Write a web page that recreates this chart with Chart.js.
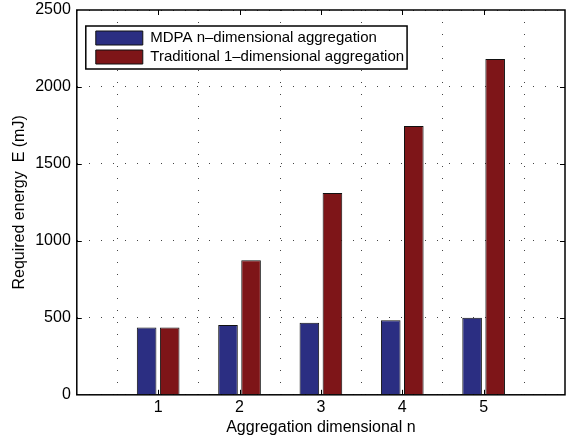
<!DOCTYPE html>
<html>
<head>
<meta charset="utf-8">
<script src="https://cdn.jsdelivr.net/npm/chart.js@4/dist/chart.umd.min.js"></script>
<style>
  html, body { margin: 0; padding: 0; background: #ffffff; }
  #wrap { width: 568px; height: 437px; position: relative; }
</style>
</head>
<body>
<div id="wrap"><canvas id="c" width="568" height="437"></canvas></div>
<script>
// ---- data ----
const categories = ['0', '1', '2', '3', '4', '5', '6'];   // axis runs 0..6, bars at 1..5
const mdpaValues = [null, 437, 453, 468, 484, 500, null];
const traditionalValues = [null, 437, 874, 1311, 1746, 2182, null];
const seriesNames = ['MDPA n\u2013dimensional aggregation', 'Traditional 1\u2013dimensional aggregation'];
const yTicks = [0, 500, 1000, 1500, 2000, 2500];
const xTitle = 'Aggregation dimensional n';
const yTitle = 'Required energy  E (mJ)';

const FONT = "'Liberation Sans', Arial, Helvetica, sans-serif";

const framePlugin = {
  id: 'matlabFrame',
  afterLayout(chart) {
    const lg = chart.legend;
    if (!lg) return;
    const a = chart.chartArea;
    const w = lg.width, h = lg.height;
    lg.left = a.left + 15; lg.right = lg.left + w;
    lg.top = a.top + 16.5; lg.bottom = lg.top + h;
  },
  afterDraw(chart) {
    const ctx = chart.ctx;
    const a = chart.chartArea;
    const xs = chart.scales.x, ys = chart.scales.y;
    ctx.save();
    // inward tick marks
    ctx.strokeStyle = '#000';
    ctx.lineWidth = 1;
    ctx.beginPath();
    for (let i = 1; i < categories.length - 1; i++) {
      const px = Math.round(xs.getPixelForValue(i)) + 0.5;
      ctx.moveTo(px, a.bottom); ctx.lineTo(px, a.bottom - 5);
      ctx.moveTo(px, a.top); ctx.lineTo(px, a.top + 5);
    }
    for (let i = 1; i < yTicks.length - 1; i++) {
      const py = Math.round(ys.getPixelForValue(yTicks[i])) + 0.5;
      ctx.moveTo(a.left, py); ctx.lineTo(a.left + 5, py);
      ctx.moveTo(a.right, py); ctx.lineTo(a.right - 5, py);
    }
    ctx.stroke();
    // box
    ctx.lineWidth = 1.5;
    ctx.strokeStyle = '#000';
    ctx.strokeRect(a.left, a.top, a.right - a.left, a.bottom - a.top);
    // legend frame
    const lg = chart.legend;
    if (lg) {
      ctx.font = '15px ' + FONT;
      let tw = 0;
      seriesNames.forEach(s => { tw = Math.max(tw, ctx.measureText(s).width); });
      const fl = lg.left - 6, ft = lg.top - 0.5;
      const fw = 6 + 4 + 47 + 7.5 + tw + 3;
      const fh = 43;
      ctx.fillStyle = '#fff';
      ctx.fillRect(fl, ft, fw, fh);
      ctx.lineWidth = 1.5;
      ctx.strokeRect(fl, ft, fw, fh);
      ctx.restore();
      lg.draw();
      return;
    }
    ctx.restore();
  }
};

new Chart(document.getElementById('c'), {
  type: 'bar',
  data: {
    labels: categories,
    datasets: [
      {
        label: seriesNames[0],
        data: mdpaValues,
        backgroundColor: '#2b2e82',
        borderColor: '#111111',
        borderWidth: 1
      },
      {
        label: seriesNames[1],
        data: traditionalValues,
        backgroundColor: '#7e1518',
        borderColor: '#111111',
        borderWidth: 1
      }
    ]
  },
  options: {
    responsive: false,
    animation: false,
    devicePixelRatio: 1,
    layout: { padding: { left: 9, right: 3, top: 0, bottom: 0 } },
    categoryPercentage: 0.567,
    barPercentage: 0.85,
    scales: {
      x: {
        offset: false,
        grid: {
          display: true,
          color: '#444',
          lineWidth: 1,
          drawTicks: false,
          z: -1
        },
        border: { display: false, dash: [1, 11] },
        ticks: {
          color: '#000',
          font: { family: FONT, size: 16 },
          padding: 3,
          maxRotation: 0,
          autoSkip: false,
          callback: function (v, i) {
            return (i === 0 || i === categories.length - 1) ? '' : categories[i];
          }
        },
        title: {
          display: true,
          text: xTitle,
          color: '#000',
          font: { family: FONT, size: 16, lineHeight: 1 },
          padding: { top: 0, bottom: 1 }
        }
      },
      y: {
        min: 0,
        max: 2500,
        grid: {
          display: true,
          color: '#444',
          lineWidth: 1,
          drawTicks: false,
          z: -1
        },
        border: { display: false, dash: [1, 11] },
        ticks: {
          stepSize: 500,
          color: '#000',
          font: { family: FONT, size: 16, lineHeight: 0.5 },
          padding: 6,
          callback: function (v) { return String(v); }
        },
        title: {
          display: true,
          text: yTitle,
          color: '#000',
          font: { family: FONT, size: 16 },
          padding: { top: 1, bottom: 0 }
        }
      }
    },
    plugins: {
      legend: {
        position: 'chartArea',
        align: 'start',
        onClick: null,
        labels: {
          boxWidth: 47,
          boxHeight: 14,
          padding: 4,
          color: '#000',
          font: { family: FONT, size: 15 }
        }
      },
      tooltip: { enabled: false }
    }
  },
  plugins: [framePlugin]
});
</script>
</body>
</html>
